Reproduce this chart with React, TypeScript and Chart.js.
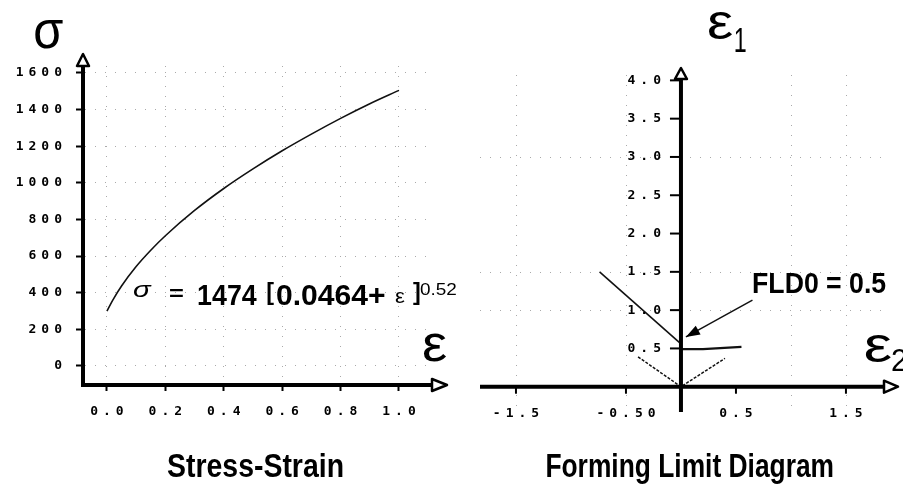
import React, { useEffect, useRef } from "react";
import { Chart, registerables } from "chart.js";

Chart.register(...registerables);

// ---------- Stress-Strain (left) ----------
const strainValues = [0, 0.02, 0.05, 0.1, 0.15, 0.2, 0.3, 0.4, 0.5, 0.6, 0.7, 0.8, 0.9, 1.0];
const stressValues = [300, 360, 437, 543, 632, 711, 849, 969, 1076, 1175, 1266, 1352, 1432, 1505];
const ssXTicks = [0, 0.2, 0.4, 0.6, 0.8, 1.0];
const ssXLabels = ["0.0", "0.2", "0.4", "0.6", "0.8", "1.0"];
const ssYTicks = [0, 200, 400, 600, 800, 1000, 1200, 1400, 1600];
const ssYLabels = ["0", "200", "400", "600", "800", "1000", "1200", "1400", "1600"];
const ssXRange = [-0.082, 1.113];
const ssYRange = [-104, 1638];

// ---------- Forming Limit Diagram (right) ----------
const fldLeftE2 = [-0.74, 0];
const fldLeftE1 = [1.5, 0.56];
const fldPlainE2 = [0, 0.2, 0.55];
const fldPlainE1 = [0.49, 0.49, 0.52];
const fldVE2 = [-0.39, 0, 0.4];
const fldVE1 = [0.39, 0, 0.37];
const fld0ArrowE2 = [0.65, 0.045];
const fld0ArrowE1 = [1.13, 0.65];
const fldXTicks = [-1.5, -0.5, 0.5, 1.5];
const fldXLabels = ["-1.5", "-0.50", "0.5", "1.5"];
const fldYTicks = [0.5, 1, 1.5, 2, 2.5, 3, 3.5, 4];
const fldYLabels = ["0.5", "1.0", "1.5", "2.0", "2.5", "3.0", "3.5", "4.0"];
const fldGridX = [-1.5, -0.5, 1, 1.5];
const fldGridY = [1, 1.5, 3];
const fldXRange = [-1.827, 1.855];
const fldYRange = [-0.33, 4.07];

const TICK_FONT = "bold 13px 'DejaVu Sans Mono', monospace";
const SANS = "'Liberation Sans', Arial, sans-serif";
const GRID = "#aaaaaa";

function inkFitW(ctx: any, text: string, font: string, left: number, right: number, baseline: number) {
  ctx.save();
  ctx.font = font;
  ctx.letterSpacing = "0px";
  ctx.textAlign = "left";
  ctx.textBaseline = "alphabetic";
  const m = ctx.measureText(text);
  const w = m.actualBoundingBoxLeft + m.actualBoundingBoxRight;
  const sx = w > 0 ? (right - left) / w : 1;
  ctx.translate(left, baseline);
  ctx.scale(sx, 1);
  ctx.fillStyle = "#000";
  ctx.fillText(text, m.actualBoundingBoxLeft, 0);
  ctx.restore();
}

function inkFitBox(ctx: any, text: string, font: string, l: number, t: number, r: number, b: number) {
  ctx.save();
  ctx.font = font;
  ctx.letterSpacing = "0px";
  ctx.textAlign = "left";
  ctx.textBaseline = "alphabetic";
  const m = ctx.measureText(text);
  const w = m.actualBoundingBoxLeft + m.actualBoundingBoxRight;
  const h = m.actualBoundingBoxAscent + m.actualBoundingBoxDescent;
  ctx.translate(l, t);
  ctx.scale((r - l) / w, (b - t) / h);
  ctx.fillStyle = "#000";
  ctx.fillText(text, m.actualBoundingBoxLeft, m.actualBoundingBoxAscent);
  ctx.restore();
}

function openArrow(ctx: any, tipX: number, tipY: number, dir: "up" | "right", len: number, half: number) {
  ctx.save();
  ctx.beginPath();
  if (dir === "up") {
    ctx.moveTo(tipX, tipY);
    ctx.lineTo(tipX - half, tipY + len);
    ctx.lineTo(tipX + half, tipY + len);
  } else {
    ctx.moveTo(tipX, tipY);
    ctx.lineTo(tipX - len, tipY - half);
    ctx.lineTo(tipX - len, tipY + half);
  }
  ctx.closePath();
  ctx.fillStyle = "#fff";
  ctx.fill();
  ctx.lineWidth = 2.5;
  ctx.lineJoin = "round";
  ctx.strokeStyle = "#000";
  ctx.stroke();
  ctx.restore();
}

export default function App() {
  const leftRef = useRef<HTMLCanvasElement>(null);
  const rightRef = useRef<HTMLCanvasElement>(null);

  useEffect(() => {
    if (!leftRef.current || !rightRef.current) return;

    const ssPlugin = {
      id: "ssDecor",
      beforeDraw(chart: any) {
        chart.ctx.letterSpacing = "5px";
      },
      afterDraw(chart: any) {
        const ctx = chart.ctx;
        const a = chart.chartArea;
        ctx.save();
        ctx.letterSpacing = "0px";
        openArrow(ctx, a.left, a.top - 12, "up", 12, 6);
        openArrow(ctx, a.right + 15, a.bottom, "right", 15, 6);
        // axis symbols
        inkFitBox(ctx, "σ", "54px " + SANS, 35, 20, 63, 49);
        inkFitBox(ctx, "ε", "54px " + SANS, 423, 333, 447, 362);
        // equation
        inkFitBox(ctx, "σ", "italic 20px " + SANS, 133, 285, 152, 297);
        inkFitBox(ctx, "=", "bold 20px " + SANS, 169, 289, 183, 297);
        inkFitW(ctx, "1474", "bold 30px " + SANS, 198, 257, 305);
        inkFitBox(ctx, "[", "bold 30px " + SANS, 267, 283, 274, 305);
        inkFitW(ctx, "0.0464+", "bold 30px " + SANS, 277, 385, 305);
        inkFitBox(ctx, "ε", "20px " + SANS, 395, 292, 405, 303);
        inkFitBox(ctx, "]", "bold 30px " + SANS, 413, 283, 420, 305);
        inkFitW(ctx, "0.52", "16px " + SANS, 420, 457, 295);
        // title
        inkFitW(ctx, "Stress-Strain", "bold 33px " + SANS, 167, 343, 477);
        ctx.restore();
      },
    };

    const c1 = new Chart(leftRef.current, {
      type: "scatter",
      data: {
        datasets: [
          {
            data: strainValues.map((x, i) => ({ x, y: stressValues[i] })),
            showLine: true,
            borderColor: "#111",
            borderWidth: 1.6,
            pointRadius: 0,
            cubicInterpolationMode: "monotone",
          },
        ],
      },
      options: {
        responsive: false,
        animation: false,
        events: [],
        layout: { padding: { left: 0, right: 28, top: 66, bottom: 0 } },
        plugins: { legend: { display: false }, tooltip: { enabled: false } },
        scales: {
          x: {
            type: "linear",
            position: "bottom",
            min: ssXRange[0],
            max: ssXRange[1],
            afterBuildTicks: (s: any) => {
              s.ticks = ssXTicks.map((v) => ({ value: v }));
            },
            afterFit: (s: any) => {
              s.height = 103;
            },
            ticks: {
              autoSkip: false,
              maxRotation: 0,
              padding: 13,
              labelOffset: 2.5,
              color: "#000",
              font: { family: "'DejaVu Sans Mono', monospace", size: 13, weight: "bold" },
              callback: (_v: any, i: number) => ssXLabels[i],
            },
            grid: { color: GRID, lineWidth: 1, tickColor: "#000", tickLength: 6, tickWidth: 2 },
            border: { display: true, color: "#000", width: 4, dash: [1, 9] },
          },
          y: {
            type: "linear",
            position: "left",
            min: ssYRange[0],
            max: ssYRange[1],
            afterBuildTicks: (s: any) => {
              s.ticks = ssYTicks.map((v) => ({ value: v }));
            },
            afterFit: (s: any) => {
              s.width = 83;
            },
            ticks: {
              autoSkip: false,
              padding: 9,
              color: "#000",
              font: { family: "'DejaVu Sans Mono', monospace", size: 13, weight: "bold" },
              callback: (_v: any, i: number) => ssYLabels[i],
            },
            grid: { color: GRID, lineWidth: 1, tickColor: "#000", tickLength: 7, tickWidth: 2 },
            border: { display: true, color: "#000", width: 4, dash: [1, 9] },
          },
        },
      },
      plugins: [ssPlugin],
    } as any);

    const fldPlugin = {
      id: "fldDecor",
      beforeDatasetsDraw(chart: any) {
        const ctx = chart.ctx;
        const a = chart.chartArea;
        const xs = chart.scales.x;
        const ys = chart.scales.y;
        ctx.save();
        ctx.strokeStyle = GRID;
        ctx.lineWidth = 1;
        ctx.setLineDash([1, 9]);
        fldGridY.forEach((v) => {
          const y = Math.round(ys.getPixelForValue(v)) + 0.5;
          ctx.beginPath();
          ctx.moveTo(a.left, y);
          ctx.lineTo(a.right, y);
          ctx.stroke();
        });
        fldGridX.forEach((v) => {
          const x = Math.round(xs.getPixelForValue(v)) + 0.5;
          ctx.beginPath();
          ctx.moveTo(x, a.top);
          ctx.lineTo(x, a.bottom);
          ctx.stroke();
        });
        ctx.restore();
      },
      afterDatasetsDraw(chart: any) {
        const ctx = chart.ctx;
        const a = chart.chartArea;
        const xs = chart.scales.x;
        const ys = chart.scales.y;
        const x0 = xs.getPixelForValue(0);
        const y0 = ys.getPixelForValue(0);
        ctx.save();
        ctx.letterSpacing = "0px";
        ctx.setLineDash([]);
        ctx.strokeStyle = "#000";
        ctx.lineWidth = 4;
        ctx.beginPath();
        ctx.moveTo(a.left, y0);
        ctx.lineTo(a.right, y0);
        ctx.stroke();
        ctx.beginPath();
        ctx.moveTo(x0, a.bottom);
        ctx.lineTo(x0, a.top);
        ctx.stroke();
        openArrow(ctx, x0, a.top - 7, "up", 11, 6);
        openArrow(ctx, a.right + 13, y0, "right", 14, 6);
        // ticks
        ctx.lineWidth = 2;
        fldYTicks.forEach((v) => {
          const y = ys.getPixelForValue(v);
          ctx.beginPath();
          ctx.moveTo(x0 - 11, y);
          ctx.lineTo(x0, y);
          ctx.stroke();
        });
        fldXTicks.forEach((v) => {
          const x = xs.getPixelForValue(v);
          ctx.beginPath();
          ctx.moveTo(x, y0);
          ctx.lineTo(x, y0 + 7);
          ctx.stroke();
        });
        // tick labels
        ctx.font = TICK_FONT;
        ctx.fillStyle = "#000";
        ctx.letterSpacing = "5px";
        ctx.textBaseline = "middle";
        ctx.textAlign = "right";
        fldYTicks.forEach((v, i) => {
          ctx.fillText(fldYLabels[i], x0 - 15, ys.getPixelForValue(v));
        });
        ctx.textAlign = "center";
        fldXTicks.forEach((v, i) => {
          ctx.fillText(fldXLabels[i], xs.getPixelForValue(v) + 2.5, y0 + 27);
        });
        ctx.letterSpacing = "0px";
        // FLD0 arrow head
        const n = fld0ArrowE2.length;
        const tx = xs.getPixelForValue(fld0ArrowE2[n - 1]);
        const ty = ys.getPixelForValue(fld0ArrowE1[n - 1]);
        const fx = xs.getPixelForValue(fld0ArrowE2[n - 2]);
        const fy = ys.getPixelForValue(fld0ArrowE1[n - 2]);
        const ang = Math.atan2(ty - fy, tx - fx);
        ctx.beginPath();
        ctx.moveTo(tx, ty);
        ctx.lineTo(tx - 14 * Math.cos(ang) + 5 * Math.sin(ang), ty - 14 * Math.sin(ang) - 5 * Math.cos(ang));
        ctx.lineTo(tx - 14 * Math.cos(ang) - 5 * Math.sin(ang), ty - 14 * Math.sin(ang) + 5 * Math.cos(ang));
        ctx.closePath();
        ctx.fillStyle = "#000";
        ctx.fill();
        // texts
        inkFitW(ctx, "FLD0 = 0.5", "bold 29px " + SANS, 293, 426, 293);
        inkFitBox(ctx, "ε", "54px " + SANS, 248, 12, 273, 40);
        inkFitBox(ctx, "1", "36px " + SANS, 275, 27, 286, 52);
        inkFitBox(ctx, "ε", "54px " + SANS, 405, 335, 432, 363);
        inkFitBox(ctx, "2", "30px " + SANS, 432, 350, 447, 371);
        inkFitW(ctx, "Forming Limit Diagram", "bold 33px " + SANS, 87, 373, 477);
        ctx.restore();
      },
    };

    const line = (xs: number[], ys: number[], extra: any) => ({
      data: xs.map((x, i) => ({ x, y: ys[i] })),
      showLine: true,
      pointRadius: 0,
      borderColor: "#111",
      borderWidth: 1.6,
      ...extra,
    });

    const c2 = new Chart(rightRef.current, {
      type: "scatter",
      data: {
        datasets: [
          line(fldLeftE2, fldLeftE1, { borderWidth: 1.6 }),
          line(fldPlainE2, fldPlainE1, { borderWidth: 2.2 }),
          line(fldVE2, fldVE1, { borderWidth: 1.5, borderDash: [3, 1.5] }),
          line(fld0ArrowE2, fld0ArrowE1, { borderWidth: 1.5 }),
        ],
      },
      options: {
        responsive: false,
        animation: false,
        events: [],
        layout: { padding: { left: 20, right: 18, top: 75, bottom: 76 } },
        plugins: { legend: { display: false }, tooltip: { enabled: false } },
        scales: {
          x: { type: "linear", display: false, min: fldXRange[0], max: fldXRange[1] },
          y: { type: "linear", display: false, min: fldYRange[0], max: fldYRange[1] },
        },
      },
      plugins: [fldPlugin],
    } as any);

    return () => {
      c1.destroy();
      c2.destroy();
    };
  }, []);

  return (
    <div style={{ position: "absolute", left: 0, top: 0, width: 903, height: 488, background: "#fff", overflow: "hidden" }}>
      <canvas ref={leftRef} width={460} height={488} style={{ position: "absolute", left: 0, top: 0, width: 460, height: 488 }} />
      <canvas ref={rightRef} width={443} height={488} style={{ position: "absolute", left: 460, top: 0, width: 443, height: 488 }} />
    </div>
  );
}
